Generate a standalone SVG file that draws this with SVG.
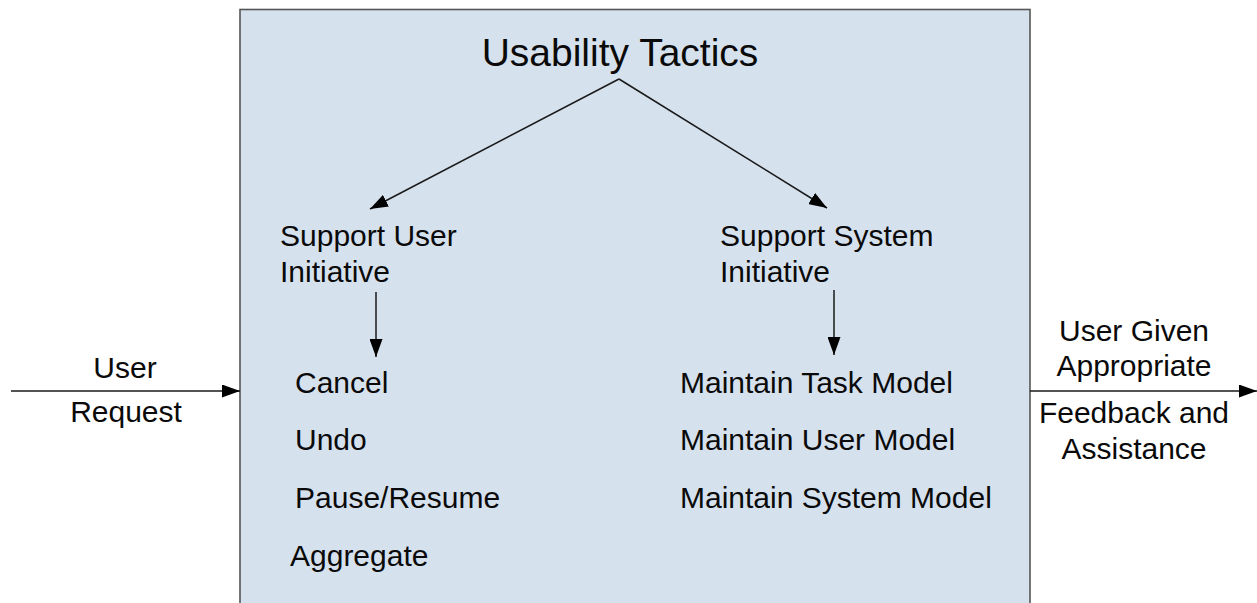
<svg xmlns="http://www.w3.org/2000/svg" width="1257" height="603" viewBox="0 0 1257 603">
<defs>
<marker id="ah" viewBox="0 0 18 13" refX="18" refY="6.5" markerWidth="18" markerHeight="13" markerUnits="userSpaceOnUse" orient="auto">
<path d="M0,0 L18,6.5 L0,13 Z" fill="#000"/>
</marker>
<style>
text{font-family:"Liberation Sans",Arial,Helvetica,sans-serif;fill:#0a0a0a;}
.t{font-size:30px;}
.title{font-size:39px;}
.c{stroke:#1a1a1a;stroke-width:1.5;fill:none;marker-end:url(#ah);}
</style>
</defs>
<rect width="1257" height="603" fill="#fff"/>
<g id="usability-tactics-box">
<rect x="240" y="9.5" width="790" height="600" fill="#d6e1ee" stroke="#555" stroke-width="1.6"/>
</g>
<g id="title"><text class="title" x="620" y="66" text-anchor="middle">Usability Tactics</text></g>
<g id="support-user">
<text class="t" x="280" y="246">Support User</text>
<text class="t" x="280" y="282">Initiative</text>
</g>
<g id="support-system">
<text class="t" x="720" y="246">Support System</text>
<text class="t" x="720" y="282">Initiative</text>
</g>
<g id="user-tactics">
<text class="t" x="295" y="393">Cancel</text>
<text class="t" x="295" y="450">Undo</text>
<text class="t" x="295" y="508">Pause/Resume</text>
<text class="t" x="290" y="566">Aggregate</text>
</g>
<g id="system-tactics">
<text class="t" x="680" y="393">Maintain Task Model</text>
<text class="t" x="680" y="450">Maintain User Model</text>
<text class="t" x="680" y="508">Maintain System Model</text>
</g>
<g id="user-request">
<text class="t" x="125" y="378" text-anchor="middle">User</text>
<text class="t" x="126" y="422" text-anchor="middle">Request</text>
</g>
<g id="user-feedback">
<text class="t" x="1134" y="341" text-anchor="middle">User Given</text>
<text class="t" x="1134" y="376" text-anchor="middle">Appropriate</text>
<text class="t" x="1134" y="423" text-anchor="middle">Feedback and</text>
<text class="t" x="1134" y="459" text-anchor="middle">Assistance</text>
</g>
<g id="connectors">
<line class="c" x1="619" y1="79" x2="370" y2="209"/>
<line class="c" x1="619" y1="79" x2="827" y2="208"/>
<line class="c" x1="376" y1="292" x2="376" y2="357"/>
<line class="c" x1="834" y1="290" x2="834" y2="355"/>
<line class="c" x1="11" y1="391" x2="240" y2="391"/>
<line class="c" x1="1030" y1="391" x2="1257" y2="391"/>
</g>
</svg>
